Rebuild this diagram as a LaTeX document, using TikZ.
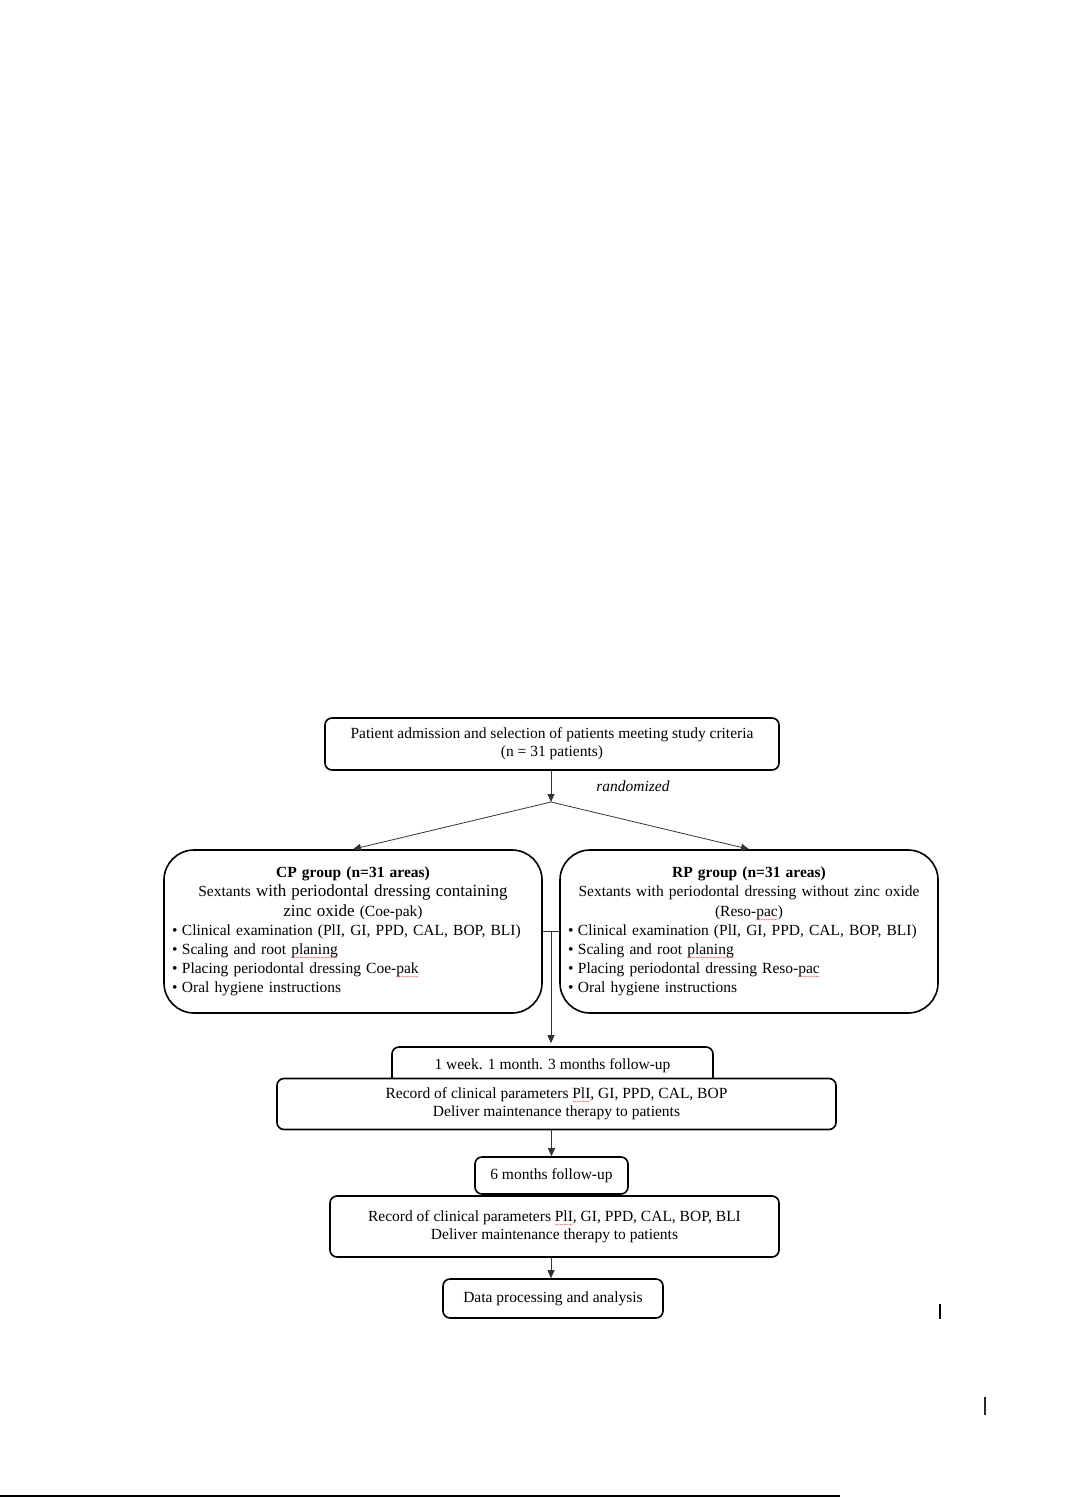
\documentclass[tikz,border=0pt]{standalone}
\usepackage{fontspec}
\setmainfont{Liberation Serif}
\usetikzlibrary{arrows.meta,calc}
\newcommand\mfs{\fontsize{15.5}{19.2}\selectfont}
\newcommand\sfs{\fontsize{15.5}{18}\selectfont}
\newcommand\bfs{\fontsize{17}{19.2}\selectfont}
\newsavebox\sqbox
\newcommand\sq[1]{\leavevmode\sbox\sqbox{#1}\rlap{\lower6pt\hbox to \wd\sqbox{\color{red}\fontsize{7.5}{7.5}\selectfont\xleaders\hbox{\char"7E}\hfill}}\usebox\sqbox}
\newcommand\bul{\textbullet\hspace{4.5pt}}
\begin{document}
\begin{tikzpicture}[x=1pt,y=-1pt,
 box/.style={draw,line width=1.6pt,rounded corners=7pt,fill=white,inner sep=0pt,align=center,font=\sfs},
 bigbox/.style={draw,line width=1.6pt,rounded corners=30pt,fill=white,inner sep=8pt,font=\mfs},
 conn/.style={line width=0.8pt,draw=black!80},
 arr/.style={conn,-{Triangle[length=8pt,width=7pt]}}]
\useasboundingbox (0,0) rectangle (1090,1498);

\node[box,minimum width=454pt,minimum height=52pt] (top) at (552,744)
 {Patient admission and selection of patients meeting study criteria\\(n = 31 patients)};
\coordinate (split) at (551,802);
\node[font=\mfs\itshape] (rand) at (633,786) {randomized};

\node[bigbox,text width=362pt,minimum width=378pt,minimum height=163pt] (cp) at (353,931.5)
 {{\centering\textbf{CP group (n=31 areas)}\\
 Sextants {\bfs with periodontal dressing containing}\\
 {\bfs zinc oxide} (Coe-pak)\par}
 \raggedright
 \bul Clinical examination (PlI, GI, PPD, CAL, BOP, BLI)\\
 \bul Scaling and root \sq{planing}\\
 \bul Placing periodontal dressing Coe-\sq{pak}\\
 \bul Oral hygiene instructions\par};

\node[bigbox,text width=362pt,minimum width=378pt,minimum height=163pt] (rp) at (749,931.5)
 {{\centering\textbf{RP group (n=31 areas)}\\
 Sextants with periodontal dressing without zinc oxide\\
 (Reso-\sq{pac})\par}
 \raggedright
 \bul Clinical examination (PlI, GI, PPD, CAL, BOP, BLI)\\
 \bul Scaling and root \sq{planing}\\
 \bul Placing periodontal dressing Reso-\sq{pac}\\
 \bul Oral hygiene instructions\par};

\node[box,minimum width=321pt,minimum height=38pt] (wk) at (552.5,1066)
 {1 week. 1 month. 3 months follow-up};
\node[box,minimum width=559pt,minimum height=51pt] (rec1) at (556.5,1104)
 {Record of clinical parameters \sq{PlI}, GI, PPD, CAL, BOP\\Deliver maintenance therapy to patients};
\node[box,minimum width=153pt,minimum height=37pt] (six) at (551.5,1175.5)
 {6 months follow-up};
\node[box,minimum width=449pt,minimum height=61pt] (rec2) at (554.5,1226.5)
 {Record of clinical parameters \sq{PlI}, GI, PPD, CAL, BOP, BLI\\Deliver maintenance therapy to patients};
\node[box,minimum width=220pt,minimum height=39pt] (data) at (553,1298.5)
 {Data processing and analysis};

% connectors
\draw[arr] (split |- top.south) -- (split);
\draw[arr] (split) -- (cp.north);
\draw[arr] (split) -- (rp.north);
\draw[conn] (cp.east) -- (rp.west);
\coordinate (mid) at ($(cp.east)!0.5!(rp.west)$);
\coordinate (wktop) at ($(mid |- wk.north)+(0,-3)$);
\draw[arr] (mid) -- (wktop);
\coordinate (a2) at (551.5,0);
\draw[arr] (a2 |- rec1.south) -- (a2 |- six.north);
\coordinate (a3) at (551,0);
\draw[arr] (a3 |- rec2.south) -- (a3 |- data.north);

% stray page marks
\draw[line width=1.3pt] (940,1304) -- (940,1319);
\draw[line width=2.5pt,black!85] (985,1397) -- (985,1415);
\draw[line width=2pt] (0,1496) -- (840,1496);
\end{tikzpicture}
\end{document}
